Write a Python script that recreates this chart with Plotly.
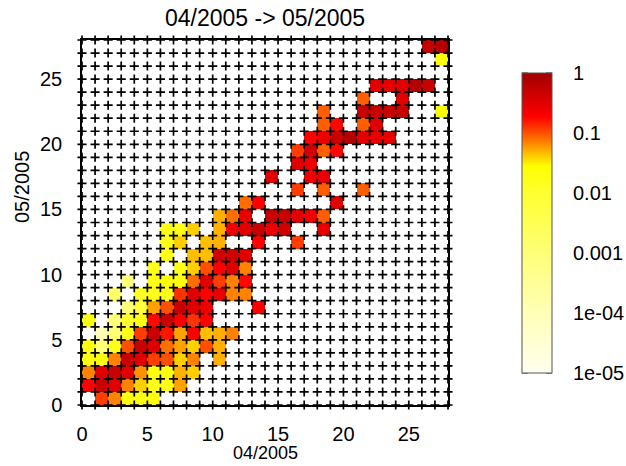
import numpy as np
import plotly.graph_objects as go

_ = None
N = 28
# transition probabilities, row j = 05/2005 bin, column i = 04/2005 bin
ROW_00 = [_, .115, .07, .02, .02, .02] + [_] * 22
ROW_01 = [.19, .5, .32, .07, .04, .016, .016, .056] + [_] * 20
ROW_02 = [.07, .32, .5, .32, .063, .02, .02, .05, .04] + [_] * 19
ROW_03 = [.02, .02, .07, .5, .32, .115, .1, .04, .07, _, .05] + [_] * 17
ROW_04 = [.02, .001, .016, .1, .5, .32, .08, .056, .04, .1, .05] + [_] * 17
ROW_05 = [_, .0001, .001, .016, .115, .5, .16, .056, .19, .045, .05, .07] + [_] * 16
ROW_06 = [.02, _, .001, .01, .02, .18, .5, .19, .125, .19] + [_] * 18
ROW_07 = [_, _, _, .001, .006, .056, .1, .5, .32, .25, _, _, _, .19] + [_] * 14
ROW_08 = [_, _, .0016, _, .0125, .016, .016, .125, .32, .19, .28, .07, .07] + [_] * 15
ROW_09 = [_, _, _, .001, _, .016, .025, .02, .08, .32, .115, .07, .18] + [_] * 15
ROW_10 = [_, _, _, _, _, .016, _, .016, .04, .1, .19, .32, .07] + [_] * 15
ROW_11 = [_, _, _, _, _, _, .016, _, .045, .045, .43, .43, .32] + [_] * 15
ROW_12 = [_] * 6 + [.016, .04, _, .045, .05, _, _, .19, _, _, .115] + [_] * 11
ROW_13 = [_] * 6 + [.016, .016, .04, _, .05, .25, .32, .5, .25, .43, _, _, .28] + [_] * 9
ROW_14 = [_] * 10 + [.05, .08, .28, _, .5, .5, .32, .25, .09] + [_] * 9
ROW_15 = [_] * 12 + [.08, .19, _, _, _, _, _, .32] + [_] * 8
ROW_16 = [_] * 16 + [.115, _, .09, _, _, .09] + [_] * 6
ROW_17 = [_] * 14 + [.32, _, _, .25, .28] + [_] * 9
ROW_18 = [_] * 16 + [.32, .25] + [_] * 10
ROW_19 = [_] * 16 + [.115, .43, .09, .18] + [_] * 8
ROW_20 = [_] * 17 + [.19, .25, .5, .7, .32, .28, .28] + [_] * 4
ROW_21 = [_] * 18 + [.09, .18, _, .09, .32] + [_] * 5
ROW_22 = [_] * 18 + [.09, _, _, .5, .5, .5, .5, _, _, .026]
ROW_23 = [_] * 21 + [.09, _, _, .32] + [_] * 3
ROW_24 = [_] * 22 + [.32, .28, .32, .7, .5, _]
ROW_25 = [_] * 28
ROW_26 = [_] * 27 + [.026]
ROW_27 = [_] * 26 + [.5, .7]

ROWS = [ROW_00, ROW_01, ROW_02, ROW_03, ROW_04, ROW_05, ROW_06, ROW_07, ROW_08,
        ROW_09, ROW_10, ROW_11, ROW_12, ROW_13, ROW_14, ROW_15, ROW_16, ROW_17,
        ROW_18, ROW_19, ROW_20, ROW_21, ROW_22, ROW_23, ROW_24, ROW_25, ROW_26, ROW_27]

AXIS_TICKS = [0, 5, 10, 15, 20, 25]
CB_TICKVALS = [1e-5, 1e-4, 1e-3, 1e-2, 1e-1, 1]
CB_TICKTEXT = ["1e-05", "1e-04", "0.001", "0.01", "0.1", "1"]
TITLE = "04/2005 -> 05/2005"
XLABEL = "04/2005"
YLABEL = "05/2005"

z = [[(np.log10(v) if v is not None else None) for v in row] for row in ROWS]

COLORSCALE = [[0.0, "#fffff0"], [0.2, "#ffffb8"], [0.4, "#ffff78"], [0.6, "#ffff30"],
              [0.69, "#ffff00"], [0.73, "#ffc000"], [0.77, "#ff8000"], [0.81, "#ff4000"],
              [0.855, "#ff0000"], [1.0, "#a00000"]]

W, H = 626, 466
L, R, T, B = 82, 448, 40, 405  # plot area in pixels
FONT = "Liberation Sans, Arial, sans-serif"


def px(xp):
    return (xp - L) / (R - L)


def py(yp):
    return (B - yp) / (B - T)


fig = go.Figure()
fig.add_trace(go.Heatmap(
    z=z, x0=0.5, dx=1, y0=0.5, dy=1,
    zmin=-5, zmax=0, colorscale=COLORSCALE,
    colorbar=dict(
        x=px(522), xanchor="left", xpad=0,
        y=py(73), yanchor="top", ypad=0,
        len=300, lenmode="pixels", thickness=30,
        outlinecolor="#555555", outlinewidth=1,
        tickvals=[np.log10(v) for v in CB_TICKVALS], ticktext=CB_TICKTEXT,
        ticks="outside", ticklen=17, tickcolor="rgba(0,0,0,0)",
        tickfont=dict(family=FONT, size=20, color="black"),
    ),
    hoverinfo="skip",
))

gx, gy = np.meshgrid(np.arange(N + 1), np.arange(N + 1))
fig.add_trace(go.Scatter(
    x=gx.ravel(), y=gy.ravel(), mode="markers",
    marker=dict(symbol="cross-thin", size=6.5, line=dict(width=1.7, color="black")),
    cliponaxis=False, hoverinfo="skip", showlegend=False,
))

# colorbar inner tick marks (major at decades, minor at 2x and 5x)
shapes = []
bar_l, bar_r, bar_t, bar_b = 522, 552, 73, 373
for dec in range(-5, 1):
    for m, ln in [(1, 6), (2, 4), (5, 4)]:
        lv = dec + np.log10(m)
        if lv > 0:
            continue
        yy = bar_t + (0 - lv) * (bar_b - bar_t) / 5
        for x0, x1 in [(bar_l, bar_l + ln), (bar_r - ln, bar_r)]:
            shapes.append(dict(type="line", xref="paper", yref="paper",
                               x0=px(x0), x1=px(x1), y0=py(yy), y1=py(yy),
                               line=dict(color="#333333", width=1)))

axis_common = dict(range=[0, N], tickvals=AXIS_TICKS, ticks="", showgrid=False,
                   zeroline=False, showline=True, mirror=True, linecolor="black",
                   linewidth=1.5, tickfont=dict(family=FONT, size=20, color="black"))

fig.update_layout(
    width=W, height=H,
    margin=dict(l=L, r=W - R, t=T, b=H - B, pad=0, autoexpand=False),
    paper_bgcolor="white", plot_bgcolor="white",
    xaxis=dict(**axis_common, ticklabelstandoff=10),
    yaxis=dict(**axis_common, ticklabelstandoff=14),
    shapes=shapes,
    showlegend=False,
    annotations=[
        dict(text=XLABEL, xref="paper", yref="paper", x=px(265), y=0, yshift=-(466 - B) + 1,
             xanchor="center", yanchor="bottom", showarrow=False,
             font=dict(family=FONT, size=18, color="black")),
        dict(text=TITLE, xref="paper", yref="paper", x=0.5, y=py(18),
             xanchor="center", yanchor="middle", showarrow=False,
             font=dict(family=FONT, size=23, color="black")),
        dict(text=YLABEL, xref="paper", yref="paper", x=px(22), y=py(187),
             xanchor="center", yanchor="middle", showarrow=False, textangle=-90,
             font=dict(family=FONT, size=20, color="black")),
    ],
)

fig.write_html("out.html")
